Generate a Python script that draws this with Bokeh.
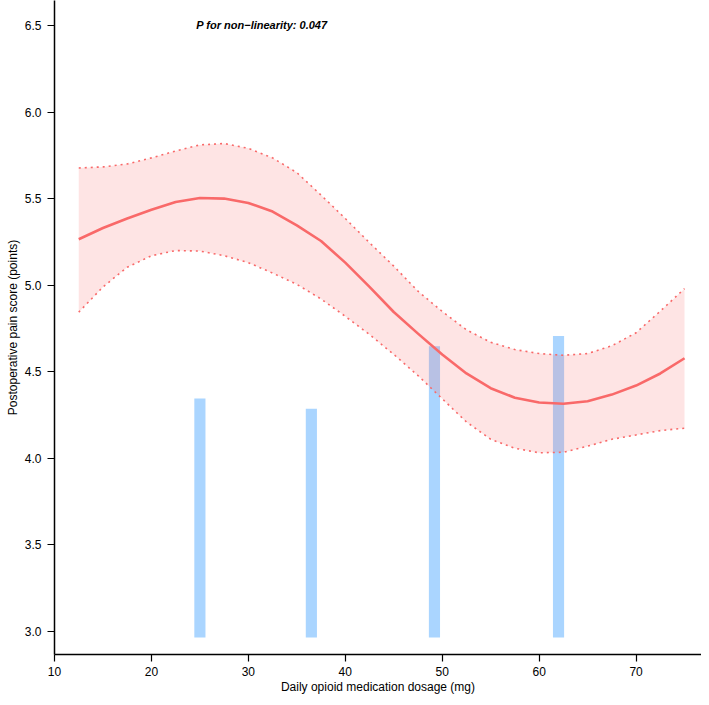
from bokeh.plotting import figure
from bokeh.models import ColumnDataSource, FixedTicker, Band, CustomJSTickFormatter
from bokeh.core.properties import value
from bokeh.embed import file_html
from bokeh.resources import INLINE

# ---- data ----
dose = [12.5, 15, 17.5, 20, 22.5, 25, 27.5, 30, 32.5, 35, 37.5, 40, 42.5,
        45, 47.5, 50, 52.5, 55, 57.5, 60, 62.5, 65, 67.5, 70, 72.5, 75]
pain_fit = [5.265, 5.33, 5.385, 5.435, 5.48, 5.503, 5.50, 5.475, 5.425, 5.345,
            5.255, 5.13, 4.99, 4.845, 4.72, 4.60, 4.49, 4.405, 4.35, 4.322,
            4.315, 4.33, 4.368, 4.42, 4.49, 4.578]
pain_upper = [5.677, 5.683, 5.70, 5.735, 5.775, 5.81, 5.818, 5.79, 5.735, 5.65,
              5.52, 5.385, 5.245, 5.11, 4.965, 4.848, 4.742, 4.67, 4.628, 4.605,
              4.595, 4.605, 4.65, 4.725, 4.85, 4.98]
pain_lower = [4.844, 4.99, 5.103, 5.17, 5.20, 5.197, 5.17, 5.13, 5.07, 5.005,
              4.92, 4.82, 4.715, 4.60, 4.478, 4.344, 4.21, 4.11, 4.058, 4.032,
              4.035, 4.07, 4.11, 4.135, 4.16, 4.174]

bar_dose = [25.0, 36.5, 49.2, 62.0]
bar_top = [4.345, 4.286, 4.647, 4.707]
bar_base = 2.965

x_ticks = [10, 20, 30, 40, 50, 60, 70]
y_ticks = [3.0, 3.5, 4.0, 4.5, 5.0, 5.5, 6.0, 6.5]
annotation = "P for non\u2212linearity: 0.047"

RED = "#F96A6A"
BLUE = "#AAD5FF"
FONT = "Liberation Sans"

p = figure(width=701, height=697, x_range=(10, 76.75), y_range=(2.867, 6.644),
           output_backend="svg", toolbar_location=None,
           min_border_left=54, min_border_right=0, min_border_top=0,
           min_border_bottom=43)

p.xgrid.grid_line_color = None
p.ygrid.grid_line_color = None
p.outline_line_color = None
p.background_fill_color = "white"
p.border_fill_color = "white"

# bars
p.vbar(x=bar_dose, top=bar_top, bottom=bar_base, width=1.15,
       fill_color=BLUE, line_color=None)

# confidence band
src = ColumnDataSource(dict(x=dose, y=pain_fit, lo=pain_lower, hi=pain_upper))
band = Band(base="x", lower="lo", upper="hi", source=src,
            fill_color=RED, fill_alpha=0.18, line_color=None)
p.add_layout(band)

p.line("x", "hi", source=src, line_color=RED, line_width=1.6, line_dash="2 4")
p.line("x", "lo", source=src, line_color=RED, line_width=1.6, line_dash="2 4")
p.line("x", "y", source=src, line_color=RED, line_width=2.6, line_join="round")

p.text(x=[31.4], y=[6.5], text=[annotation], text_align="center",
       text_baseline="middle", text_font=value(FONT),
       text_font_style="bold italic", text_font_size="11px", text_color="black")

# axes
p.xaxis.ticker = FixedTicker(ticks=x_ticks)
p.yaxis.ticker = FixedTicker(ticks=y_ticks)
p.yaxis.formatter = CustomJSTickFormatter(code="return tick.toFixed(1);")

for ax in (p.xaxis[0], p.yaxis[0]):
    ax.axis_line_color = "black"
    ax.axis_line_width = 1.5
    ax.major_tick_line_color = "black"
    ax.major_tick_line_width = 1.2
    ax.major_tick_out = 7
    ax.major_tick_in = 0
    ax.minor_tick_line_color = None
    ax.major_label_text_font = FONT
    ax.major_label_text_font_size = "12px"
    ax.major_label_text_color = "black"
    ax.axis_label_text_font = FONT
    ax.axis_label_text_font_size = "12px"
    ax.axis_label_text_font_style = "normal"
    ax.axis_label_text_color = "black"

p.xaxis.axis_label = "Daily opioid medication dosage (mg)"
p.yaxis.axis_label = "Postoperative pain score (points)"
p.xaxis.major_label_standoff = 5
p.xaxis.axis_label_standoff = 1
p.yaxis.major_label_standoff = 6
p.yaxis.axis_label_standoff = 2

open("out.html", "w").write(file_html(p, INLINE))
